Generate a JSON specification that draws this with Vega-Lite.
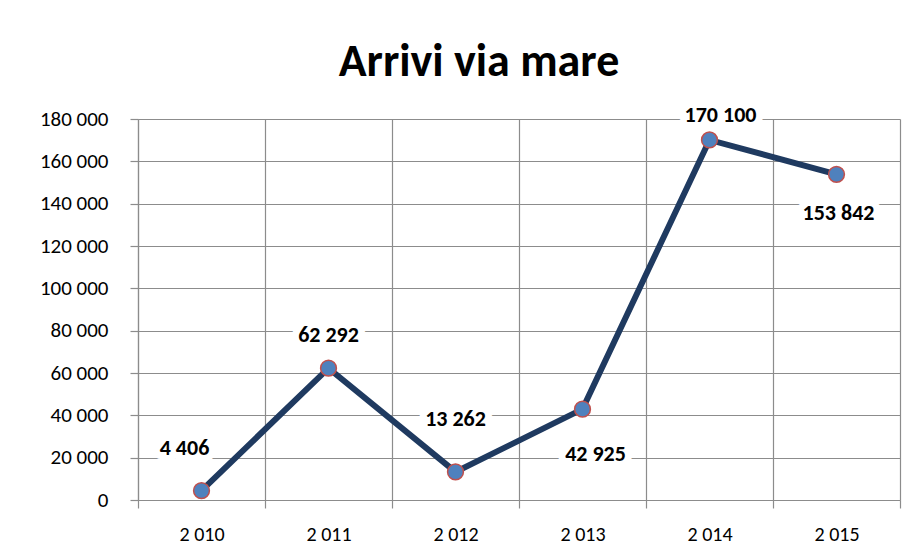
{
  "$schema": "https://vega.github.io/schema/vega-lite/v6.json",
  "width": 762,
  "height": 381,
  "autosize": {"type": "none"},
  "padding": {"left": 138, "top": 119, "right": 20, "bottom": 57},
  "background": "white",
  "title": {"text": "Arrivi via mare", "fontSize": 46, "font": "Carlito, Lato, sans-serif", "fontWeight": "bold", "color": "black", "anchor": "middle", "dx": -40, "offset": 18},
  "data": {"values": [
    {"anno": 2010, "arrivi": 4406},
    {"anno": 2011, "arrivi": 62292},
    {"anno": 2012, "arrivi": 13262},
    {"anno": 2013, "arrivi": 42925},
    {"anno": 2014, "arrivi": 170100},
    {"anno": 2015, "arrivi": 153842}
  ]},
  "config": {
    "locale": {"number": {"decimal": ",", "thousands": " ", "grouping": [3], "currency": ["", " €"]}},
    "view": {"stroke": null},
    "axis": {"gridColor": "#8c8c8c", "gridWidth": 1.2, "gridOpacity": 1, "domainColor": "#8c8c8c", "domainWidth": 1.2, "tickColor": "#8c8c8c", "tickWidth": 1.2, "tickSize": 8, "labelColor": "black", "labelFont": "Carlito, Lato, sans-serif", "title": null},
    "text": {"font": "Carlito, Lato, sans-serif", "fontSize": 22, "fontWeight": "bold"}
  },
  "encoding": {
    "x": {"field": "anno", "type": "ordinal", "scale": {"paddingInner": 0, "paddingOuter": 0},
      "axis": {"tickBand": "extent", "grid": true, "labelAngle": 0, "labelPadding": 16, "labelFontSize": 20, "labelExpr": "datum.label ? slice(datum.label, 0, 1) + ' ' + slice(datum.label, 1) : ''"}},
    "y": {"field": "arrivi", "type": "quantitative", "scale": {"domain": [0, 180000], "nice": false},
      "axis": {"values": [0, 20000, 40000, 60000, 80000, 100000, 120000, 140000, 160000, 180000], "grid": true, "labelPadding": 22, "labelFontSize": 21, "labelExpr": "format(datum.value, ',')"}}
  },
  "layer": [
    {"mark": {"type": "line", "color": "#1f3a60", "strokeWidth": 6}},
    {"mark": {"type": "point", "filled": true, "fill": "#4f81bd", "stroke": "#c0504d", "strokeWidth": 1.5, "size": 250, "opacity": 1}},
    {"transform": [{"filter": {"field": "anno", "equal": 2010}}], "mark": {"type": "text", "dx": -17, "dy": -43, "stroke": "white", "strokeWidth": 14, "strokeJoin": "round", "fill": "white"}, "encoding": {"text": {"field": "arrivi", "type": "quantitative", "format": ","}}},
    {"transform": [{"filter": {"field": "anno", "equal": 2010}}], "mark": {"type": "text", "dx": -17, "dy": -43, "color": "black"}, "encoding": {"text": {"field": "arrivi", "type": "quantitative", "format": ","}}},
    {"transform": [{"filter": {"field": "anno", "equal": 2011}}], "mark": {"type": "text", "dx": 0, "dy": -33, "stroke": "white", "strokeWidth": 14, "strokeJoin": "round", "fill": "white"}, "encoding": {"text": {"field": "arrivi", "type": "quantitative", "format": ","}}},
    {"transform": [{"filter": {"field": "anno", "equal": 2011}}], "mark": {"type": "text", "dx": 0, "dy": -33, "color": "black"}, "encoding": {"text": {"field": "arrivi", "type": "quantitative", "format": ","}}},
    {"transform": [{"filter": {"field": "anno", "equal": 2012}}], "mark": {"type": "text", "dx": 0, "dy": -53, "stroke": "white", "strokeWidth": 14, "strokeJoin": "round", "fill": "white"}, "encoding": {"text": {"field": "arrivi", "type": "quantitative", "format": ","}}},
    {"transform": [{"filter": {"field": "anno", "equal": 2012}}], "mark": {"type": "text", "dx": 0, "dy": -53, "color": "black"}, "encoding": {"text": {"field": "arrivi", "type": "quantitative", "format": ","}}},
    {"transform": [{"filter": {"field": "anno", "equal": 2013}}], "mark": {"type": "text", "dx": 13, "dy": 45, "stroke": "white", "strokeWidth": 14, "strokeJoin": "round", "fill": "white"}, "encoding": {"text": {"field": "arrivi", "type": "quantitative", "format": ","}}},
    {"transform": [{"filter": {"field": "anno", "equal": 2013}}], "mark": {"type": "text", "dx": 13, "dy": 45, "color": "black"}, "encoding": {"text": {"field": "arrivi", "type": "quantitative", "format": ","}}},
    {"transform": [{"filter": {"field": "anno", "equal": 2014}}], "mark": {"type": "text", "dx": 11, "dy": -25, "stroke": "white", "strokeWidth": 14, "strokeJoin": "round", "fill": "white"}, "encoding": {"text": {"field": "arrivi", "type": "quantitative", "format": ","}}},
    {"transform": [{"filter": {"field": "anno", "equal": 2014}}], "mark": {"type": "text", "dx": 11, "dy": -25, "color": "black"}, "encoding": {"text": {"field": "arrivi", "type": "quantitative", "format": ","}}},
    {"transform": [{"filter": {"field": "anno", "equal": 2015}}], "mark": {"type": "text", "dx": 2, "dy": 39, "stroke": "white", "strokeWidth": 14, "strokeJoin": "round", "fill": "white"}, "encoding": {"text": {"field": "arrivi", "type": "quantitative", "format": ","}}},
    {"transform": [{"filter": {"field": "anno", "equal": 2015}}], "mark": {"type": "text", "dx": 2, "dy": 39, "color": "black"}, "encoding": {"text": {"field": "arrivi", "type": "quantitative", "format": ","}}}
  ]
}
